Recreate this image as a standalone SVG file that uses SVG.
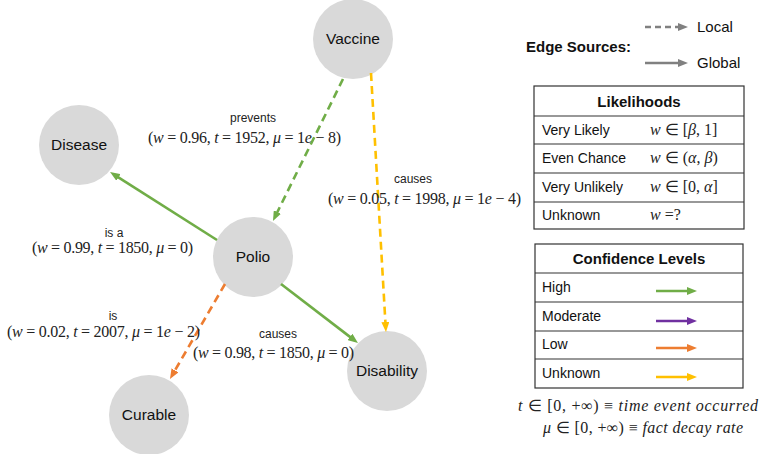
<svg xmlns="http://www.w3.org/2000/svg" width="762" height="454" viewBox="0 0 762 454">
<style>
.node circle{fill:#d9d9d9}
.node text{font-family:"Liberation Sans",Arial,sans-serif;font-size:15.5px;fill:#111;text-anchor:middle}
.e{fill:none;stroke-width:2.6}
.dash{stroke-dasharray:8 5}
.g{stroke:#70ad47}.y{stroke:#ffc000}.o{stroke:#ed7d31}.p{stroke:#7030a0}.k{stroke:#808080}
.lbl{font-family:"Liberation Sans",Arial,sans-serif;font-size:12px;fill:#222;text-anchor:middle}
.math{font-family:"Liberation Serif","Times New Roman",serif;font-size:16px;fill:#222;text-anchor:middle}
.mathl{font-family:"Liberation Serif","Times New Roman",serif;font-size:16px;fill:#222;text-anchor:start}
.i{font-style:italic}
.leg{font-family:"Liberation Sans",Arial,sans-serif;font-size:14px;fill:#111}
.src{font-family:"Liberation Sans",Arial,sans-serif;font-size:15px;fill:#111}
.hdr{font-family:"Liberation Sans",Arial,sans-serif;font-size:15px;font-weight:bold;fill:#111}
.hdrc{font-family:"Liberation Sans",Arial,sans-serif;font-size:15px;font-weight:bold;fill:#111;text-anchor:middle}
.tbl{fill:#fff;stroke:#333;stroke-width:1.2}
.rl{stroke:#333;stroke-width:1.2}
</style>
<defs>
<marker id="ag" markerUnits="userSpaceOnUse" markerWidth="10" markerHeight="8" refX="2" refY="4" orient="auto"><path d="M0,0 L10,4 L0,8 z" fill="#70ad47"/></marker>
<marker id="ay" markerUnits="userSpaceOnUse" markerWidth="10" markerHeight="8" refX="2" refY="4" orient="auto"><path d="M0,0 L10,4 L0,8 z" fill="#ffc000"/></marker>
<marker id="ao" markerUnits="userSpaceOnUse" markerWidth="10" markerHeight="8" refX="2" refY="4" orient="auto"><path d="M0,0 L10,4 L0,8 z" fill="#ed7d31"/></marker>
<marker id="ap" markerUnits="userSpaceOnUse" markerWidth="10" markerHeight="8" refX="2" refY="4" orient="auto"><path d="M0,0 L10,4 L0,8 z" fill="#7030a0"/></marker>
<marker id="ak" markerUnits="userSpaceOnUse" markerWidth="10" markerHeight="8" refX="2" refY="4" orient="auto"><path d="M0,0 L10,4 L0,8 z" fill="#808080"/></marker>
</defs>

<g id="nodes">
<g id="vaccine" class="node"><circle cx="353" cy="39" r="40"/><text x="353" y="44">Vaccine</text></g>
<g id="disease" class="node"><circle cx="79" cy="145" r="40"/><text x="79" y="150">Disease</text></g>
<g id="polio" class="node"><circle cx="253" cy="257" r="40"/><text x="253" y="262">Polio</text></g>
<g id="disability" class="node"><circle cx="387" cy="371" r="40"/><text x="387" y="376">Disability</text></g>
<g id="curable" class="node"><circle cx="149" cy="415" r="40"/><text x="149" y="420">Curable</text></g>
</g>

<g id="connectors">
<line class="e g" x1="217" y1="240" x2="116.8" y2="176.3" marker-end="url(#ag)"/>
<line class="e g dash" x1="343" y1="79" x2="276.5" y2="213.8" marker-end="url(#ag)"/>
<line class="e y dash" x1="371" y1="73" x2="385.5" y2="324" marker-end="url(#ay)"/>
<line class="e g" x1="281" y1="284" x2="351.6" y2="338.1" marker-end="url(#ag)"/>
<line class="e o dash" x1="225" y1="284" x2="174" y2="372.1" marker-end="url(#ao)"/>
</g>

<g id="edge-labels">
<text class="lbl" x="253" y="122">prevents</text>
<text class="math" x="244.5" y="143" textLength="193" lengthAdjust="spacing">(<tspan class="i">w</tspan> = 0.96, <tspan class="i">t</tspan> = 1952, <tspan class="i">μ</tspan> = 1<tspan class="i">e</tspan> − 8)</text>
<text class="lbl" x="413" y="183">causes</text>
<text class="math" x="424.5" y="204" textLength="193" lengthAdjust="spacing">(<tspan class="i">w</tspan> = 0.05, <tspan class="i">t</tspan> = 1998, <tspan class="i">μ</tspan> = 1<tspan class="i">e</tspan> − 4)</text>
<text class="lbl" x="114" y="237">is a</text>
<text class="math" x="112.5" y="253" textLength="161" lengthAdjust="spacing">(<tspan class="i">w</tspan> = 0.99, <tspan class="i">t</tspan> = 1850, <tspan class="i">μ</tspan> = 0)</text>
<text class="lbl" x="113" y="320">is</text>
<text class="math" x="103.5" y="337" textLength="193" lengthAdjust="spacing">(<tspan class="i">w</tspan> = 0.02, <tspan class="i">t</tspan> = 2007, <tspan class="i">μ</tspan> = 1<tspan class="i">e</tspan> − 2)</text>
<text class="lbl" x="278" y="338">causes</text>
<text class="math" x="273.5" y="358" textLength="161" lengthAdjust="spacing">(<tspan class="i">w</tspan> = 0.98, <tspan class="i">t</tspan> = 1850, <tspan class="i">μ</tspan> = 0)</text>
</g>

<g id="legend-sources">
<text class="hdr" x="526" y="52">Edge Sources:</text>
<line class="e k" x1="645" y1="27" x2="680" y2="27" stroke-dasharray="6 4" marker-end="url(#ak)"/>
<text class="src" x="697" y="32">Local</text>
<line class="e k" x1="645" y1="63" x2="680" y2="63" marker-end="url(#ak)"/>
<text class="src" x="697" y="68">Global</text>
</g>

<g id="legend-likelihoods">
<rect class="tbl" x="534" y="86" width="210" height="143"/>
<line class="rl" x1="534" y1="116" x2="744" y2="116"/>
<line class="rl" x1="534" y1="144" x2="744" y2="144"/>
<line class="rl" x1="534" y1="173" x2="744" y2="173"/>
<line class="rl" x1="534" y1="202" x2="744" y2="202"/>
<text class="hdrc" x="639" y="107">Likelihoods</text>
<text class="leg" x="542" y="135">Very Likely</text>
<text class="leg" x="542" y="163">Even Chance</text>
<text class="leg" x="542" y="192">Very Unlikely</text>
<text class="leg" x="542" y="220">Unknown</text>
<text class="mathl" x="650" y="135"><tspan class="i">w</tspan> ∈ [<tspan class="i">β</tspan>, 1]</text>
<text class="mathl" x="650" y="163"><tspan class="i">w</tspan> ∈ (<tspan class="i">α</tspan>, <tspan class="i">β</tspan>)</text>
<text class="mathl" x="650" y="192"><tspan class="i">w</tspan> ∈ [0, <tspan class="i">α</tspan>]</text>
<text class="mathl" x="650" y="220"><tspan class="i">w</tspan> =?</text>
</g>

<g id="legend-confidence">
<rect class="tbl" x="535" y="244" width="208" height="144"/>
<line class="rl" x1="535" y1="273" x2="743" y2="273"/>
<line class="rl" x1="535" y1="302" x2="743" y2="302"/>
<line class="rl" x1="535" y1="331" x2="743" y2="331"/>
<line class="rl" x1="535" y1="359" x2="743" y2="359"/>
<text class="hdrc" x="639" y="264">Confidence Levels</text>
<text class="leg" x="542" y="292">High</text>
<text class="leg" x="542" y="321">Moderate</text>
<text class="leg" x="542" y="349">Low</text>
<text class="leg" x="542" y="378">Unknown</text>
<line class="e g" x1="656" y1="291" x2="689" y2="291" marker-end="url(#ag)"/>
<line class="e p" x1="656" y1="321" x2="689" y2="321" marker-end="url(#ap)"/>
<line class="e o" x1="656" y1="348" x2="689" y2="348" marker-end="url(#ao)"/>
<line class="e y" x1="656" y1="377" x2="689" y2="377" marker-end="url(#ay)"/>
</g>

<g id="legend-notes">
<text class="math" x="638" y="411" textLength="240" lengthAdjust="spacing"><tspan class="i">t</tspan> ∈ [0, +∞) ≡ <tspan class="i">time event occurred</tspan></text>
<text class="math" x="643" y="433" textLength="200" lengthAdjust="spacing"><tspan class="i">μ</tspan> ∈ [0, +∞) ≡ <tspan class="i">fact decay rate</tspan></text>
</g>
</svg>
